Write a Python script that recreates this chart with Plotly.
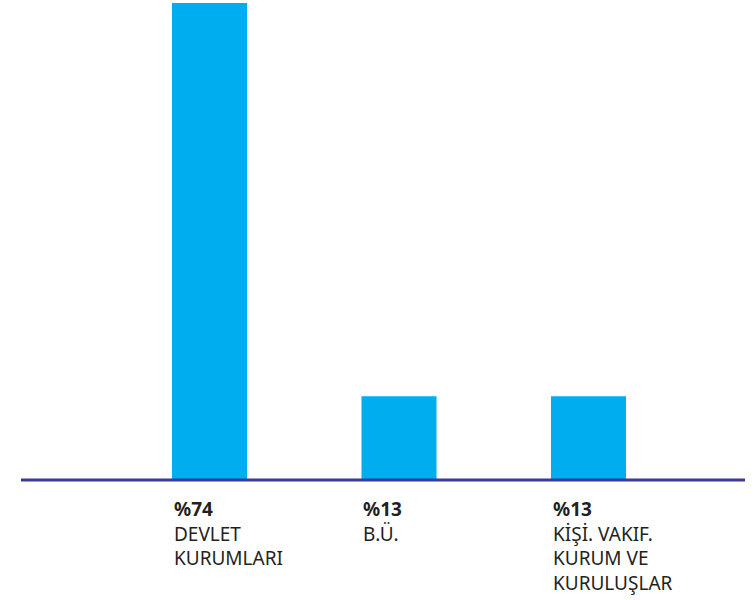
import plotly.graph_objects as go

categories = ["DEVLET<br>KURUMLARI", "B.Ü.", "KİŞİ. VAKIF.<br>KURUM VE<br>KURULUŞLAR"]
values = [74, 13, 13]
value_labels = ["%74", "%13", "%13"]

bar_color = "#00aeef"
line_color = "#3a3a9a"
text_color = "#231f20"
bar_width = 0.396
xs = list(range(len(categories)))

fig = go.Figure()
fig.add_trace(go.Bar(x=xs, y=values, width=bar_width, marker=dict(color=bar_color, line=dict(width=0)),
                     hoverinfo="skip"))

for x, lab, cat in zip(xs, value_labels, categories):
    fig.add_annotation(x=x - bar_width / 2, xref="x", y=0, yref="y", xanchor="left", yanchor="top",
                       text=f"<b>{lab}</b><br>{cat}", showarrow=False, align="left", yshift=-14,
                       font=dict(family="Noto Sans", size=19, color=text_color))

fig.add_shape(type="line", xref="paper", x0=0, x1=1, yref="paper", y0=0, y1=0,
              line=dict(color=line_color, width=3), layer="above")

fig.update_layout(
    width=754, height=600,
    margin=dict(l=21, r=9, t=0, b=120),
    plot_bgcolor="white", paper_bgcolor="white",
    showlegend=False,
    xaxis=dict(range=[-0.995, 2.826], showgrid=False, zeroline=False, showticklabels=False, showline=False, fixedrange=True),
    yaxis=dict(range=[0, 74.45], showgrid=False, zeroline=False, showticklabels=False, showline=False, fixedrange=True),
)
fig.write_html("out.html", config={"displayModeBar": False},
               post_script="document.body.style.margin='0px';document.body.style.padding='0px';")
